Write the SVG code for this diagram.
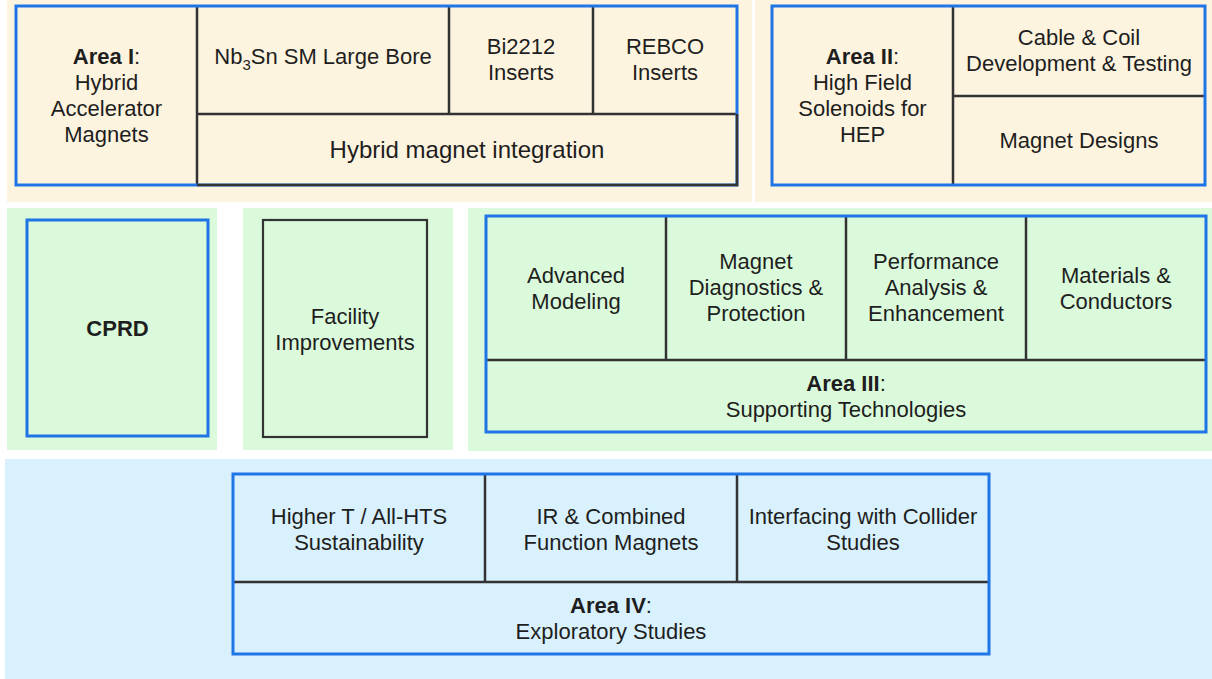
<svg xmlns="http://www.w3.org/2000/svg" width="1212" height="679" viewBox="0 0 1212 679">
<style>
.bg-beige{fill:#fdf4df}
.bg-green{fill:#dbfadb}
.bg-blue{fill:#d9f1fc}
.outer{fill:none;stroke:#1f74e6;stroke-width:3}
.cell{fill:none;stroke:#333333;stroke-width:2.2}
.div{stroke:#333333;stroke-width:2.5;fill:none}
text{font-family:"Liberation Sans",Arial,Helvetica,sans-serif;font-size:22px;fill:#1e1e1e;text-anchor:middle}
.b{font-weight:bold}
.big{font-size:24px}
</style>
<rect width="1212" height="679" fill="#ffffff"/>
<!-- background panels -->
<rect class="bg-beige" x="7" y="0" width="745" height="202"/>
<rect class="bg-beige" x="755" y="0" width="457" height="202"/>
<rect class="bg-green" x="7" y="208" width="210" height="242"/>
<rect class="bg-green" x="243" y="208" width="210" height="242"/>
<rect class="bg-green" x="468" y="208" width="744" height="243"/>
<rect class="bg-blue" x="5" y="459" width="1207" height="220"/>

<g id="area1">
  <rect x="16" y="6" width="721" height="179" fill="#fdf4df"/>
  <path class="div" d="M197 6V185M197 114H737M449 6V114M593 6V114"/>
  <rect class="outer" x="16" y="6" width="721" height="179"/>
  <path class="div" d="M197 185H737V114"/>
  <text x="106.5" y="64"><tspan class="b">Area I</tspan>:</text>
  <text x="106.5" y="90">Hybrid</text>
  <text x="106.5" y="116">Accelerator</text>
  <text x="106.5" y="142">Magnets</text>
</g>
<g id="nb3sn"><text x="323" y="64">Nb<tspan font-size="15" dy="6">3</tspan><tspan dy="-6">Sn SM Large Bore</tspan></text></g>
<g id="bi2212"><text x="521" y="54">Bi2212</text><text x="521" y="80">Inserts</text></g>
<g id="rebco"><text x="665" y="54">REBCO</text><text x="665" y="80">Inserts</text></g>
<g id="hybrid-integration"><text class="big" x="467" y="158">Hybrid magnet integration</text></g>

<g id="area2">
  <rect x="772" y="6" width="433" height="179" fill="#fdf4df"/>
  <path class="div" d="M953 6V185M953 96H1205"/>
  <rect class="outer" x="772" y="6" width="433" height="179"/>
  <text x="862.5" y="64"><tspan class="b">Area II</tspan>:</text>
  <text x="862.5" y="90">High Field</text>
  <text x="862.5" y="116">Solenoids for</text>
  <text x="862.5" y="142">HEP</text>
</g>
<g id="cable-coil"><text x="1079" y="45">Cable &amp; Coil</text><text x="1079" y="71">Development &amp; Testing</text></g>
<g id="magnet-designs"><text x="1079" y="148">Magnet Designs</text></g>

<g id="cprd">
  <rect class="outer" x="27" y="220" width="181" height="216" fill="#dbfadb"/>
  <text class="b" x="117.5" y="336">CPRD</text>
</g>
<g id="facility">
  <rect class="cell" x="263" y="220" width="164" height="217" fill="#dbfadb"/>
  <text x="345" y="324">Facility</text>
  <text x="345" y="350">Improvements</text>
</g>

<g id="area3">
  <rect x="486" y="216" width="720" height="216" fill="#dbfadb"/>
  <path class="div" d="M666 216V360M846 216V360M1026 216V360M486 360H1206"/>
  <rect class="outer" x="486" y="216" width="720" height="216"/>
  <text x="846" y="391"><tspan class="b">Area III</tspan>:</text>
  <text x="846" y="417">Supporting Technologies</text>
</g>
<g id="advanced-modeling"><text x="576" y="283">Advanced</text><text x="576" y="309">Modeling</text></g>
<g id="diagnostics"><text x="756" y="269">Magnet</text><text x="756" y="295">Diagnostics &amp;</text><text x="756" y="321">Protection</text></g>
<g id="performance"><text x="936" y="269">Performance</text><text x="936" y="295">Analysis &amp;</text><text x="936" y="321">Enhancement</text></g>
<g id="materials"><text x="1116" y="283">Materials &amp;</text><text x="1116" y="309">Conductors</text></g>

<g id="area4">
  <rect x="233" y="474" width="756" height="180" fill="#d9f1fc"/>
  <path class="div" d="M485 474V582M737 474V582M233 582H989"/>
  <rect class="outer" x="233" y="474" width="756" height="180"/>
  <text x="611" y="613"><tspan class="b">Area IV</tspan>:</text>
  <text x="611" y="639">Exploratory Studies</text>
</g>
<g id="higher-t"><text x="359" y="524">Higher T / All-HTS</text><text x="359" y="550">Sustainability</text></g>
<g id="ir-combined"><text x="611" y="524">IR &amp; Combined</text><text x="611" y="550">Function Magnets</text></g>
<g id="interfacing"><text x="863" y="524">Interfacing with Collider</text><text x="863" y="550">Studies</text></g>

<g id="connectors"></g>
</svg>
